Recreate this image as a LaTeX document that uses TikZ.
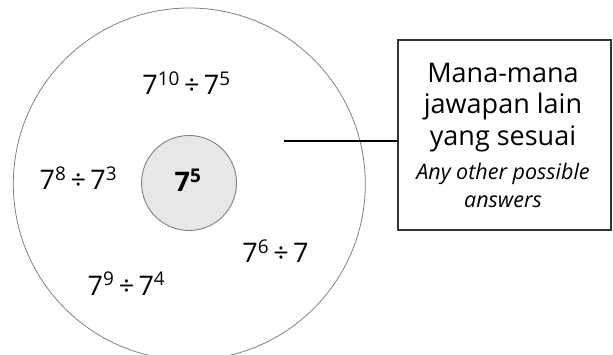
\documentclass[tikz,border=0pt]{standalone}
\usepackage{fontspec}
\setmainfont{Open Sans}
\definecolor{corefill}{HTML}{E6E7E8}
% division sign with slightly tight spacing
\newcommand{\dv}{\hspace{0.16em}÷\hspace{0.16em}}
\begin{document}
\begin{tikzpicture}[x=1pt,y=-1pt,
  ring/.style={draw=black!50,line width=0.8pt},
  core/.style={circle,draw=black!50,line width=0.9pt,fill=corefill,
    minimum size=95pt,inner sep=0pt},
  expr/.style={font=\fontsize{27}{30}\selectfont,inner sep=0pt,anchor=base},
  notebox/.style={draw=black!80,line width=1.2pt,minimum width=213pt,
    minimum height=190pt,inner sep=0pt},
  malay/.style={font=\fontsize{27}{30}\selectfont,inner sep=0pt,anchor=base},
  english/.style={font=\fontsize{21.5}{24}\selectfont\itshape,inner sep=0pt,anchor=base},
  leader/.style={draw=black,line width=1.1pt}]
\useasboundingbox (0,0) rectangle (613,355);
% outer ring, cut off at the bottom
\begin{scope}
\clip (0,0) rectangle (613,355);
\node[ring,circle,minimum size=352pt,inner sep=0pt] (ring) at (189.3,184) {};
\end{scope}
% central value
\node[core] (c) at (189,183) {};
\node[expr,font=\fontsize{27}{30}\selectfont\bfseries] (v) at (188,191.5) {7\textsuperscript{5}};
% equivalent expressions
\node[expr] (e1) at (186.5,95) {7\textsuperscript{10}\dv 7\textsuperscript{5}};
\node[expr] (e2) at (78.4,190) {7\textsuperscript{8}\dv 7\textsuperscript{3}};
\node[expr] (e3) at (275.5,262.5) {7\textsuperscript{6}\dv 7};
\node[expr] (e4) at (126.5,295) {7\textsuperscript{9}\dv 7\textsuperscript{4}};
% note box with its text
\node[notebox] (box) at (504.5,135) {};
\node[malay] (m1) at (503,83) {Mana-mana};
\node[malay] (m2) at (503,114) {jawapan lain};
\node[malay] (m3) at (503,146) {yang sesuai};
\node[english] (n1) at (503,180) {Any other possible};
\node[english] (n2) at (503,208) {answers};
% leader line
\coordinate (lead) at (284,141);
\draw[leader] (lead) -- (lead -| box.west);
\end{tikzpicture}
\end{document}
